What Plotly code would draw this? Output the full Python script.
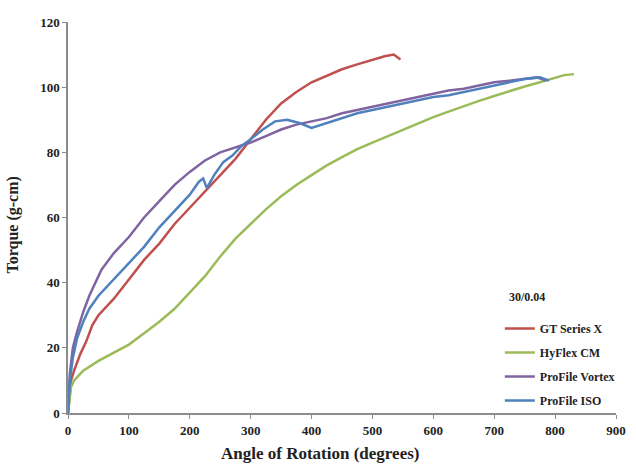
import plotly.graph_objects as go

# GT Series X
gt_x = [0, 5, 10, 20, 30, 40, 50, 75, 100, 125, 150, 175, 200, 225, 250, 275, 300, 325, 350, 375, 400, 425, 450, 475, 500, 520, 535, 546]
gt_y = [0, 10, 13, 18, 22, 27, 30, 35, 41, 47, 52, 58, 63, 68, 73, 78, 84, 90, 95, 98.5, 101.5, 103.5, 105.5, 107, 108.5, 109.5, 110, 108.5]

# HyFlex CM
hf_x = [0, 5, 10, 15, 25, 50, 75, 100, 125, 150, 175, 200, 225, 250, 275, 300, 325, 350, 375, 400, 425, 450, 475, 500, 525, 550, 575, 600, 625, 650, 675, 700, 725, 750, 775, 800, 815, 831]
hf_y = [0, 8, 10, 11, 13, 16, 18.5, 21, 24.5, 28, 32, 37, 42, 48, 53.5, 58, 62.5, 66.5, 70, 73, 76, 78.5, 81, 83, 85, 87, 89, 90.8, 92.5, 94.2, 95.8, 97.3, 98.8, 100.2, 101.5, 102.8, 103.7, 104]

# ProFile Vortex
pv_x = [0, 3, 8, 15, 25, 35, 55, 75, 100, 125, 150, 175, 200, 225, 250, 275, 300, 325, 350, 375, 400, 425, 450, 475, 500, 525, 550, 575, 600, 625, 650, 675, 700, 725, 750, 770, 785]
pv_y = [0, 12, 20, 25, 31, 36, 44, 49, 54, 60, 65, 70, 74, 77.5, 80, 81.5, 83, 85, 87, 88.5, 89.5, 90.5, 92, 93, 94, 95, 96, 97, 98, 99, 99.5, 100.5, 101.5, 102, 102.5, 103, 102]

# ProFile ISO
pi_x = [0, 3, 8, 15, 25, 35, 50, 75, 100, 125, 150, 175, 200, 215, 222, 228, 240, 255, 270, 285, 300, 320, 340, 360, 380, 400, 425, 450, 475, 500, 525, 550, 575, 600, 625, 650, 675, 700, 725, 750, 775, 790]
pi_y = [0, 10, 17, 23, 28, 32, 36, 41, 46, 51, 57, 62, 67, 71, 72, 69, 73, 77, 79, 82, 84, 87, 89.5, 90, 89, 87.5, 89, 90.5, 92, 93, 94, 95, 96, 97, 97.5, 98.5, 99.5, 100.5, 101.5, 102.5, 103, 102]

x_ticks = [0, 100, 200, 300, 400, 500, 600, 700, 800, 900]
y_ticks = [0, 20, 40, 60, 80, 100, 120]

series = [
    ("GT Series X", gt_x, gt_y, "#C0504D"),
    ("HyFlex CM", hf_x, hf_y, "#9BBB59"),
    ("ProFile Vortex", pv_x, pv_y, "#8064A2"),
    ("ProFile ISO", pi_x, pi_y, "#4F81BD"),
]

FONT = "Liberation Serif"
fig = go.Figure()
for i, (name, xs, ys, col) in enumerate(series):
    fig.add_trace(go.Scatter(x=xs, y=ys, mode="lines", name=f"<b>{name}</b>", legendgroup=f"g{i}",
                             line=dict(color=col, width=2.5)))

fig.update_layout(
    width=636, height=468,
    margin=dict(l=68, r=10, t=22, b=55),
    paper_bgcolor="white", plot_bgcolor="white",
    font=dict(family=FONT, size=12, color="#222"),
    showlegend=True,
    legend=dict(
        x=0.788, y=0.253, xanchor="left", yanchor="top",
        font=dict(family=FONT, size=12, color="#222"),
        bgcolor="rgba(0,0,0,0)",
        itemwidth=30,
        tracegroupgap=5,
    ),
    xaxis=dict(
        range=[0, 900], tickvals=x_ticks, ticktext=[f"<b>{v}</b>" for v in x_ticks],
        showgrid=False, zeroline=False, showline=True, linecolor="#8c8c8c", linewidth=2,
        ticks="outside", ticklen=4, tickcolor="#8c8c8c",
        tickfont=dict(family=FONT, size=13, color="#222"),
    ),
    yaxis=dict(
        range=[0, 120], tickvals=y_ticks, ticktext=[f"<b>{v}</b>" for v in y_ticks],
        showgrid=False, zeroline=False, showline=True, linecolor="#8c8c8c", linewidth=1.5,
        ticks="outside", ticklen=4, tickcolor="#8c8c8c",
        tickfont=dict(family=FONT, size=13, color="#222"),
    ),
    annotations=[
        dict(text="<b>30/0.04</b>", xref="paper", yref="paper",
             x=0.801, y=0.297, xanchor="left", yanchor="middle", showarrow=False,
             font=dict(family=FONT, size=12, color="#222")),
        dict(text="<b>Angle of Rotation (degrees)</b>", xref="paper", yref="paper",
             x=0.459, y=-0.075, xanchor="center", yanchor="top", showarrow=False,
             font=dict(family=FONT, size=17, color="#222")),
        dict(text="<b>Torque (g-cm)</b>", xref="paper", yref="paper",
             x=-0.1, y=0.48, xanchor="center", yanchor="middle", showarrow=False,
             textangle=-90, font=dict(family=FONT, size=16, color="#222")),
    ],
)

fig.write_html("out.html")
